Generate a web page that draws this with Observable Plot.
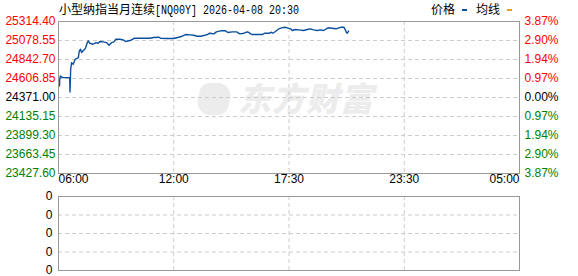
<!DOCTYPE html>
<html>
<head>
<meta charset="utf-8">
<script src="https://cdn.jsdelivr.net/npm/d3@7"></script>
<script src="https://cdn.jsdelivr.net/npm/@observablehq/plot@0.6"></script>
<style>
  html, body { margin: 0; padding: 0; background: #fff; }
  #wrap { position: relative; width: 578px; height: 276px; overflow: hidden; font-family: "Liberation Sans", Arial, sans-serif; }
  #title { position: absolute; left: 59px; top: 1px; font-size: 12px; color: #000; white-space: nowrap; font-family: "Noto Sans CJK SC", sans-serif; line-height: 16px; }
  #title .mono { display: inline-block; font-family: "Liberation Mono", monospace; font-size: 12px; transform: scaleX(0.833); transform-origin: left center; }
  #legend { position: absolute; left: 431px; top: 1px; font-size: 12px; line-height: 16px; font-family: "Noto Sans CJK SC", sans-serif; white-space: nowrap; }
  #legend .sw { display: inline-block; width: 5px; height: 2px; vertical-align: middle; margin: 0 9px 2px 7px; }
  #wm { position: absolute; left: 198px; top: 76px; color: #ececec; font-family: "Noto Sans CJK SC", sans-serif; font-weight: 900; font-style: italic; font-size: 33px; letter-spacing: 1px; line-height: 42px; white-space: nowrap; pointer-events: none; }
  #wm .ic { display: inline-block; width: 32px; height: 32px; border-radius: 8px 16px 8px 16px; background: #ececec; vertical-align: -4px; margin-right: 8px; transform: skewX(-12deg); }
  #main, #sub { position: absolute; left: 0; }
  #main { top: 0; }
  #sub { top: 190px; }
  svg { overflow: visible; }
</style>
</head>
<body>
<div id="wrap">
  <div id="wm"><span class="ic"></span>东方财富</div>
  <div id="main"></div>
  <div id="sub"></div>
  <div id="title">小型纳指当月连续<span class="mono">[NQ00Y] 2026-04-08 20:30</span></div>
  <div id="legend">价格<span class="sw" style="background:#0d4f9f"></span>均线<span class="sw" style="background:#e0a020"></span></div>
</div>
<script>
// ---- data ----
const times = ["06:03","06:04","06:06","06:12","06:35","06:36","06:38","06:41","06:46","06:52",
  "07:02","07:05","07:09","07:12","07:17","07:22","07:25","07:30","07:33","07:38","07:48","07:57",
  "08:04","08:09","08:20","08:30","08:38","08:46","08:53","08:59","09:12","09:22","09:30","09:43",
  "09:51","09:58","10:14","10:25","10:45","10:57","11:13","11:19","11:40","12:00","12:14","12:24",
  "12:34","12:48","12:57","13:07","13:17","13:26","13:36","13:43","13:55","14:02","14:14","14:28",
  "14:35","14:47","15:00","15:09","15:21","15:30","15:35","15:40","15:45","16:13","16:21","16:34",
  "16:40","16:44","16:51","17:01","17:09","17:18","17:25","17:35","17:40","17:50","18:01","18:16",
  "18:27","18:37","18:47","18:58","19:08","19:18","19:32","19:45","19:57","20:05","20:13","20:21",
  "20:26","20:29","20:32","20:36"];
const prices = [24514.6,24596.7,24639.0,24617.9,24617.9,24440.0,24721.0,24804.0,24783.0,24845.0,
  24866.0,24950.0,24970.0,24929.0,24950.0,24970.0,24991.0,25053.0,25074.0,25044.0,25032.0,25053.0,
  25044.0,25066.0,25062.0,25053.0,25020.0,25053.0,25062.0,25094.0,25094.0,25087.0,25066.0,25078.0,
  25094.0,25107.0,25107.0,25107.0,25107.0,25115.0,25119.0,25107.0,25103.0,25103.0,25119.0,25131.6,
  25152.7,25149.0,25144.0,25131.6,25131.6,25140.0,25152.7,25169.0,25161.0,25186.0,25198.7,25198.7,
  25177.6,25186.0,25186.0,25161.0,25169.0,25186.0,25177.6,25161.0,25152.7,25152.7,25169.0,25169.0,
  25181.0,25169.0,25190.0,25223.6,25236.0,25243.5,25236.0,25223.6,25202.5,25215.0,25211.0,25202.5,
  25215.0,25223.6,25211.0,25202.5,25211.0,25202.5,25236.0,25231.0,25223.6,25236.0,25243.5,25243.5,
  25211.0,25181.0,25169.0,25194.0];
const yTicks = [25314.40, 25078.55, 24842.70, 24606.85, 24371.00, 24135.15, 23899.30, 23663.45, 23427.60];
const baseClose = 24371.00;
const xTickLabels = ["06:00", "12:00", "17:30", "23:30", "05:00"];
const subTicks = [0, 1, 2, 3, 4];
const subTickLabels = ["0", "0", "0", "0", "0"];

// ---- helpers ----
const toMin = t => { const [h, m] = t.split(":").map(Number); let v = h * 60 + m - 360; if (v < 0) v += 1440; return v; };
const series = times.map((t, i) => ({x: toMin(t), y: prices[i]}));
const xTickPos = xTickLabels.map(toMin);
const xScale = {type: "linear", domain: xTickPos, range: [58, 173.25, 288.5, 403.75, 519]};
const colorOf = v => Math.abs(v - baseClose) < 0.01 ? "#000000" : (v > baseClose ? "#ff0000" : "#008000");
const pctOf = v => (Math.abs(v - baseClose) / baseClose * 100).toFixed(2) + "%";
const grid = {stroke: "#cccccc", strokeDasharray: "4,3", strokeWidth: 1};
const font = "Liberation Sans, Arial, sans-serif";

const main = Plot.plot({
  width: 578, height: 190,
  marginTop: 21, marginBottom: 17, marginLeft: 58, marginRight: 59,
  style: {fontFamily: font, fontSize: "12px", background: "transparent"},
  x: {...xScale, axis: null},
  y: {domain: [yTicks[yTicks.length - 1], yTicks[0]], axis: null},
  marks: [
    Plot.ruleY(yTicks.slice(1, -1), grid),
    Plot.ruleX(xTickPos.slice(1, -1), grid),
    Plot.line(series, {x: "x", y: "y", stroke: "#0d4f9f", strokeWidth: 1.4}),
    Plot.frame({stroke: "#999999", strokeWidth: 1}),
    Plot.text(yTicks, {y: d => d, frameAnchor: "left", dx: -3, textAnchor: "end", text: d => d.toFixed(2), fill: colorOf, fontSize: 12}),
    Plot.text(yTicks, {y: d => d, frameAnchor: "right", dx: 5, textAnchor: "start", text: pctOf, fill: colorOf, fontSize: 12}),
    Plot.text([0], {x: i => xTickPos[i], frameAnchor: "bottom", dy: 9, textAnchor: "start", text: i => xTickLabels[i], fill: "#000", fontSize: 12}),
    Plot.text([1, 2, 3], {x: i => xTickPos[i], frameAnchor: "bottom", dy: 9, textAnchor: "middle", text: i => xTickLabels[i], fill: "#000", fontSize: 12}),
    Plot.text([4], {x: i => xTickPos[i], frameAnchor: "bottom", dy: 9, textAnchor: "end", text: i => xTickLabels[i], fill: "#000", fontSize: 12})
  ]
});
document.getElementById("main").appendChild(main);

const sub = Plot.plot({
  width: 578, height: 86,
  marginTop: 6, marginBottom: 6, marginLeft: 58, marginRight: 59,
  style: {fontFamily: font, fontSize: "12px", background: "transparent"},
  x: {...xScale, axis: null},
  y: {domain: [0, 4], axis: null},
  marks: [
    Plot.ruleY(subTicks.slice(1, -1), grid),
    Plot.ruleX(xTickPos.slice(1, -1), grid),
    Plot.frame({stroke: "#999999", strokeWidth: 1}),
    Plot.text(subTicks, {y: d => d, frameAnchor: "left", dx: -6, textAnchor: "end", text: (d, i) => subTickLabels[i], fill: "#000", fontSize: 12})
  ]
});
document.getElementById("sub").appendChild(sub);
</script>
</body>
</html>
